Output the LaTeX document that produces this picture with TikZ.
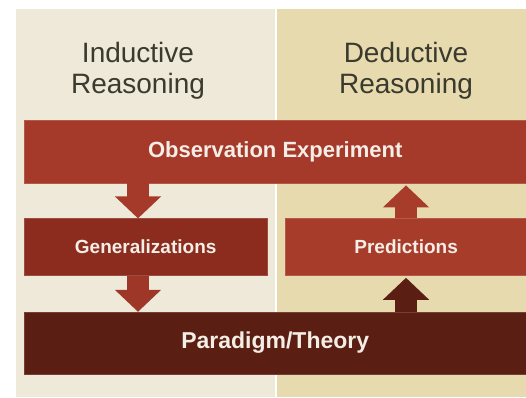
\documentclass[tikz,border=0pt]{standalone}
\usepackage{fontspec}
\setmainfont{Liberation Sans}
\usetikzlibrary{positioning,arrows.meta}
\definecolor{leftbg}{HTML}{EEE9D8}
\definecolor{rightbg}{HTML}{E6DAAE}
\definecolor{obsred}{HTML}{A63A2A}
\definecolor{genred}{HTML}{8B2C1F}
\definecolor{predred}{HTML}{A83C2B}
\definecolor{theorybrown}{HTML}{5B1E12}
\definecolor{titlegray}{HTML}{3A3A2E}
\definecolor{boxtext}{HTML}{F4EEE6}
\tikzset{
    x=1pt, y=1pt, % one unit is one pixel of the picture. Change if necessary.
    }

\begin{document}
\begin{tikzpicture}[
bar/.style={rectangle, anchor=north west, inner sep=0pt, text=boxtext, font=\bfseries\fontsize{22}{24}\selectfont},
smallbar/.style={bar, minimum height=57pt, font=\bfseries\fontsize{19}{21}\selectfont},
titletext/.style={align=center, text=titlegray, font=\fontsize{28}{30.5}\selectfont},
blockarrow/.style={line width=22pt, line cap=butt, -{Triangle[length=22pt, width=45pt]}},
]
\useasboundingbox (0,0) rectangle (526,397);
% the two halves behind the boxes
\fill[leftbg] (16,0) rectangle (275,388);
\fill[rightbg] (277,0) rectangle (526,388);

\node[titletext] (ind) at (138,326) {Inductive\\Reasoning};
\node[titletext] (ded) at (406,326) {Deductive\\Reasoning};

\node[bar, fill=obsred, draw=obsred!85!white, minimum width=502pt, minimum height=63pt] (obs) at (24,277) {Observation Experiment};
\node[smallbar, fill=genred, draw=genred!85!white, minimum width=243pt] (gen) [below right=35pt and 0pt of obs.south west] {Generalizations};
\node[smallbar, fill=predred, draw=predred!85!white, minimum width=241pt, anchor=west] (pred) [right=18pt of gen.east] {Predictions};
\node[bar, fill=theorybrown, draw=theorybrown!85!white, minimum width=502pt, minimum height=62pt, font=\bfseries\fontsize{23}{25}\selectfont] (theory) [below right=36pt and 0pt of gen.south west] {Paradigm/Theory};

\draw[blockarrow, obsred] (obs.south -| ind) -- (gen.north -| ind);
\draw[blockarrow, obsred!95!black] (gen.south -| ind) -- (theory.north -| ind);
\draw[blockarrow, predred, shorten >=2pt] (pred.north -| ded) -- (obs.south -| ded);
\draw[blockarrow, theorybrown, shorten >=2pt] (theory.north -| ded) -- (pred.south -| ded);
\end{tikzpicture}
\end{document}
